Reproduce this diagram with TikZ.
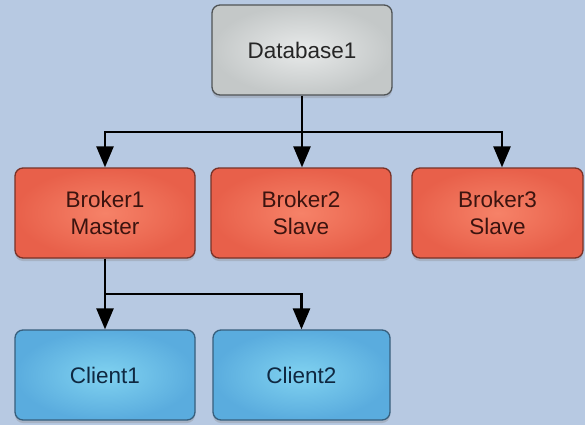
\documentclass[tikz,border=0pt]{standalone}
\usepackage{fontspec}
\setmainfont{Liberation Sans}
\usetikzlibrary{shadows,arrows.meta}
\definecolor{bgc}{RGB}{183,201,226}
\definecolor{grayin}{RGB}{232,234,234}
\definecolor{grayout}{RGB}{196,200,200}
\definecolor{grayedge}{RGB}{80,84,86}
\definecolor{redin}{RGB}{246,130,104}
\definecolor{redout}{RGB}{232,96,74}
\definecolor{rededge}{RGB}{120,50,40}
\definecolor{bluein}{RGB}{128,210,240}
\definecolor{blueout}{RGB}{90,172,222}
\definecolor{blueedge}{RGB}{55,95,125}
\definecolor{redtext}{RGB}{60,20,15}
\definecolor{bluetext}{RGB}{15,40,65}
\begin{document}
\begin{tikzpicture}[x=1pt,y=1pt,
  box/.style={rounded corners=8pt, minimum height=90pt, line width=1.3pt,
    align=center, font=\fontsize{22.5}{27}\selectfont,
    drop shadow={opacity=0.3, shadow xshift=0pt, shadow yshift=-3pt}},
  dbbox/.style={box, minimum width=180pt, draw=grayedge, inner color=grayin, outer color=grayout, text=black!85},
  brokerbox/.style={box, draw=rededge, inner color=redin, outer color=redout, text=redtext},
  clientbox/.style={box, draw=blueedge, inner color=bluein, outer color=blueout, text=bluetext},
  conn/.style={line width=2.6pt, black},
  arr/.style={conn, -{Triangle[length=21pt,width=17pt]}}]
\fill[bgc] (0,0) rectangle (585,-425);
\useasboundingbox (0,0) rectangle (585,-425);
\node[dbbox] (db) at (302,-50) {Database1};
\node[brokerbox, minimum width=180pt] (b1) at (105,-213) {Broker1\\Master};
\node[brokerbox, minimum width=180pt] (b2) at (301,-213) {Broker2\\Slave};
\node[brokerbox, minimum width=171pt] (b3) at (497.5,-213) {Broker3\\Slave};
\node[clientbox, minimum width=180pt] (c1) at (105,-375) {Client1};
\node[clientbox, minimum width=177pt] (c2) at (301.5,-375) {Client2};
\coordinate (j1) at (302,-132);
\coordinate (j2) at (105,-294);
\draw[conn] (db.south) -- (j1);
\draw[arr] (j1) -| (b1.north);
\draw[arr] (j1) -- (j1 |- b2.north);
\draw[arr] (j1) -| ([xshift=4.5pt]b3.north);
\draw[conn] (b1.south) -- (j2);
\draw[arr] (j2) -- (c1.north);
\draw[arr] (j2) -| (c2.north);
\end{tikzpicture}
\end{document}
